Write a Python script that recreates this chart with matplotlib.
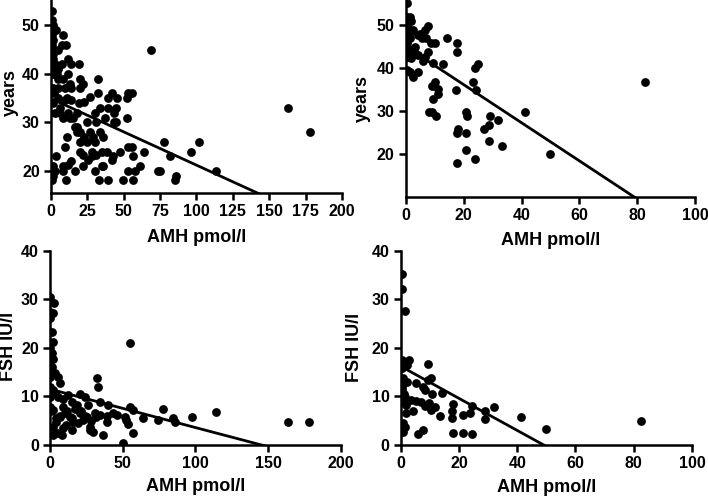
import numpy as np
import matplotlib.pyplot as plt

plt.rcParams['font.family'] = ['Liberation Sans', 'DejaVu Sans']
plt.rcParams['font.weight'] = 'bold'

# panel A: age vs AMH (left group)
amh_a = [1, 0.5, 1.5, 0.5, 3.5, 0.5, 8.5, 1.5, 7.3, 10.3, 1.5, 5, 69, 1.5, 12, 2.7, 7.3, 14, 19,
         2, 5, 12, 1.5, 8.5, 20, 32.5, 4.6, 13, 22, 20, 1.5, 5, 9.6, 13.5, 41.7, 53, 55.4, 32.5,
         26.8, 5, 9.6, 14, 23, 1.5, 19.5, 39, 45.5, 52, 39, 45, 34, 6, 2.7, 12, 17.6, 30, 43,
         8.5, 13, 37, 52, 43, 45, 31, 24.5, 16.5, 20, 27, 33.6, 29, 17.6, 10.8, 20, 24.5, 30,
         36, 78, 102, 9.6, 20, 35, 38.5, 47.4, 53, 55.4, 96.5, 64, 22, 28, 31, 42.8, 81.7, 3.4,
         56.5, 25.6, 13.7, 41.6, 12, 22, 36, 61, 1.5, 8, 2.7, 8.5, 16.5, 30, 53, 57.7, 73.7, 75,
         113.7, 1.5, 86, 0.5, 10.3, 33, 39.4, 49.7, 56.5, 85, 163, 178, 0.5, 1.5, 3, 0.5, 2, 6,
         1, 4, 11, 15, 18, 23, 28, 35]
age_a = [53, 51, 50, 49, 49, 48, 48, 47, 46, 46, 45, 45, 45, 43, 43, 42, 42, 42, 42,
         41, 41, 40, 40, 39, 39, 39, 39, 38, 38, 37, 37, 37, 37, 37, 36, 36, 36, 36,
         35.3, 35, 34.6, 34.6, 34.3, 34, 34, 35, 35, 35, 33, 33, 33, 33, 32, 32, 32, 32, 32,
         31, 31, 31, 31, 30, 30, 30, 30, 29, 28, 28, 28, 27, 28, 27, 26, 26, 26,
         27, 26, 26, 25, 24, 24, 24, 24, 25, 25, 24, 24, 23.3, 23, 23.3, 23, 23, 23,
         23, 22.3, 22, 22.3, 21.2, 21, 21, 21, 21, 21, 20, 20, 20, 20, 20, 20, 20, 20,
         20, 19, 19, 18.2, 18.2, 18.2, 18.2, 18.2, 18.2, 18.2, 33, 28, 46, 44, 41, 42, 36, 32,
         47, 40, 35, 31, 29, 27, 24, 21]

# panel B: age vs AMH (right group)
amh_b = [0.3, 0.3, 1.5, 0.3, 2, 0.3, 1.5, 2.6, 7.8, 6.7, 0.3, 1.5, 4.4, 5.5, 7, 14.2, 17.6, 8.6,
         10.1, 0.3, 3.2, 17.6, 7.8, 0.9, 4.4, 0.3, 2, 6.7, 6, 9.6, 13, 25, 23.9, 0.3, 1.5, 4.4,
         2.6, 23.4, 10.1, 82.7, 9.2, 11.3, 17.4, 24.3, 11.3, 9.3, 8.2, 9, 21, 41.2, 10.5, 21.3,
         29.1, 32, 28.9, 26.9, 18.2, 17.6, 21, 28.6, 33.2, 21, 24, 17.6, 49.9, 1, 0.5, 3, 5, 1.2]
age_b = [55.1, 52, 52, 50.9, 50.9, 49.7, 49, 49, 49.8, 49, 47.8, 47, 47.8, 47, 47, 47, 46, 46,
         46, 45, 45, 43.9, 43.9, 43.9, 43.1, 42.7, 42.3, 42.7, 41.6, 41.2, 41, 41, 40, 39.6, 39.2, 39.2,
         37.9, 36.9, 36.9, 36.9, 35.9, 35.1, 35, 35, 34, 32.9, 29.9, 29.9, 29.9, 29.9, 28.9, 28.8,
         28.9, 28, 26.8, 25.9, 25.9, 25, 25, 23, 22, 20.9, 18.8, 17.9, 20, 44, 46, 44, 48, 48]

# panel C: FSH vs AMH (left group)
amh_c = [0, 2.8, 0, 2.3, 0, 1.1, 2.3, 55, 0, 1.1, 2.3, 0, 1.1, 3.4, 5.7, 0, 6.9, 0, 2.3, 32.6,
         33.3, 3.4, 12.6, 20.6, 24.1, 0, 5.7, 9.2, 14.9, 34.4, 40.1, 26.4, 18.3, 0, 2.3, 9.2, 55,
         57.3, 78, 20.6, 31, 43.6, 6.9, 13.8, 25.2, 34.4, 45.9, 51.6, 64.2, 84.9, 97.5, 114, 74.5,
         86, 52.3, 4.1, 16.1, 39, 19.5, 53.9, 11, 22.9, 164, 178.4, 2.3, 9.2, 14.9, 27.5, 29.8,
         5, 36.7, 8, 57.3, 2.3, 50, 27.5, 32, 39, 10, 12, 15, 17, 21, 24, 28, 7, 4, 1]
fsh_c = [30.5, 29.2, 27.4, 27.1, 26.1, 23.3, 21.3, 20.9, 19.9, 18.9, 17.8, 17.2, 16.1, 14.8, 14.1, 14.1,
         12.7, 12, 11.3, 13.7, 11.9, 10.6, 10.3, 10.6, 9.9, 9.9, 9.9, 9.4, 8.9, 8.9, 8.2, 8.2, 8.2,
         7.9, 7.2, 7.9, 7.9, 7.2, 7.5, 6.5, 6.5, 6.5, 5.8, 5.8, 5.8, 6.2, 6.2, 5.8, 5.5, 5.5, 5.8, 6.7,
         5.1, 4.8, 5.1, 4.8, 4.8, 4.8, 4.5, 4.3, 4.1, 5.1, 4.7, 4.7, 3.8, 3.4, 3.1, 3.1, 2.7,
         2.4, 2.1, 2.1, 2.5, 2.1, 0.5, 3.8, 5.8, 6, 6.5, 7, 5.5, 7.5, 7, 6, 5, 6, 5.5, 7]

# panel D: FSH vs AMH (right group)
amh_d = [0.6, 0.3, 1.4, 0.6, 2.7, 2, 9.2, 0.6, 0.8, 2, 5.4, 7.7, 9.5, 10.3, 8.2, 10.9, 14.1, 0.6,
         1.4, 3.4, 5.4, 7.1, 9.7, 18, 0.6, 1.9, 8.2, 11.7, 10.5, 24.3, 32, 28.8, 17.7, 4.2, 1.9,
         23.7, 21.4, 41.4, 13.4, 17.7, 28.8, 82.4, 50, 0.8, 1.4, 0.6, 0.8, 7.7, 6, 18, 21.4, 24.3,
         0.5, 1, 1.2, 0.4]
fsh_d = [35.2, 32.2, 27.6, 17.5, 17.6, 16.5, 16.6, 15.8, 13.7, 13, 12.8, 12, 13.4, 13.7, 11.3, 10.5, 10.8, 11.3,
         9.9, 9.3, 9.1, 8.9, 8.7, 8.4, 8.9, 8.2, 8, 7.8, 7.3, 8, 7.8, 6.9, 6.9, 7, 6.5,
         6.5, 6.1, 5.8, 6, 5.5, 5.3, 4.9, 3.3, 4.5, 3.8, 3.1, 2.7, 3.1, 2.3, 2.4, 2.4, 2.3,
         12.5, 10.5, 9.5, 12]

# regression lines (intercept, slope)
fit_a = (34.9, -0.137)
fit_b = (45.1, -0.444)
fit_c = (11.5, -0.079)
fit_d = (16.2, -0.33)

fig = plt.figure(figsize=(7.08, 4.97), dpi=100)

panels = [
    ([0.072, 0.612, 0.411, 0.388], amh_a, age_a, fit_a, (0, 200), (15.5, 55.2), np.arange(0, 201, 25), [20, 30, 40, 50], 'years', -0.141, 0.518, -0.233),
    ([0.573, 0.604, 0.409, 0.396], amh_b, age_b, fit_b, (0, 100), (10.1, 55.9), np.arange(0, 101, 20), [20, 30, 40, 50], 'years', -0.151, 0.5, -0.22),
    ([0.0706, 0.1046, 0.4106, 0.391], amh_c, fsh_c, fit_c, (0, 200), (0, 40), np.arange(0, 201, 50), np.arange(0, 41, 10), 'FSH IU/l', -0.144, 0.506, -0.215),
    ([0.566, 0.1046, 0.4114, 0.391], amh_d, fsh_d, fit_d, (0, 100), (0, 40), np.arange(0, 101, 20), np.arange(0, 41, 10), 'FSH IU/l', -0.158, 0.5, -0.218),
]

for rect, xs, ys, fit, xl, yl, xt, yt, ylab, ylx, yly, xly in panels:
    ax = fig.add_axes(rect)
    ax.scatter(xs, ys, s=40, color='black', linewidths=0, zorder=3)
    lx = np.linspace(0, xl[1], 200)
    ax.plot(lx, fit[0] + fit[1] * lx, color='black', lw=2, zorder=2)
    ax.set_xlim(xl)
    ax.set_ylim(yl)
    ax.set_xticks(xt)
    ax.set_yticks(yt)
    for s in ['top', 'right']:
        ax.spines[s].set_visible(False)
    for s in ['left', 'bottom']:
        ax.spines[s].set_linewidth(1.8)
    ax.tick_params(width=1.8, length=5, labelsize=11.5, pad=3)
    for lab in ax.get_xticklabels() + ax.get_yticklabels():
        lab.set_fontweight('bold')
    ax.set_ylabel(ylab, fontsize=13, fontweight='bold')
    ax.set_xlabel('AMH pmol/l', fontsize=13, fontweight='bold')
    ax.yaxis.set_label_coords(ylx, yly)
    ax.xaxis.set_label_coords(0.5, xly)
    ax.yaxis.label.set_va('center')
    ax.xaxis.label.set_va('center')

plt.savefig('out.png', dpi=100)
